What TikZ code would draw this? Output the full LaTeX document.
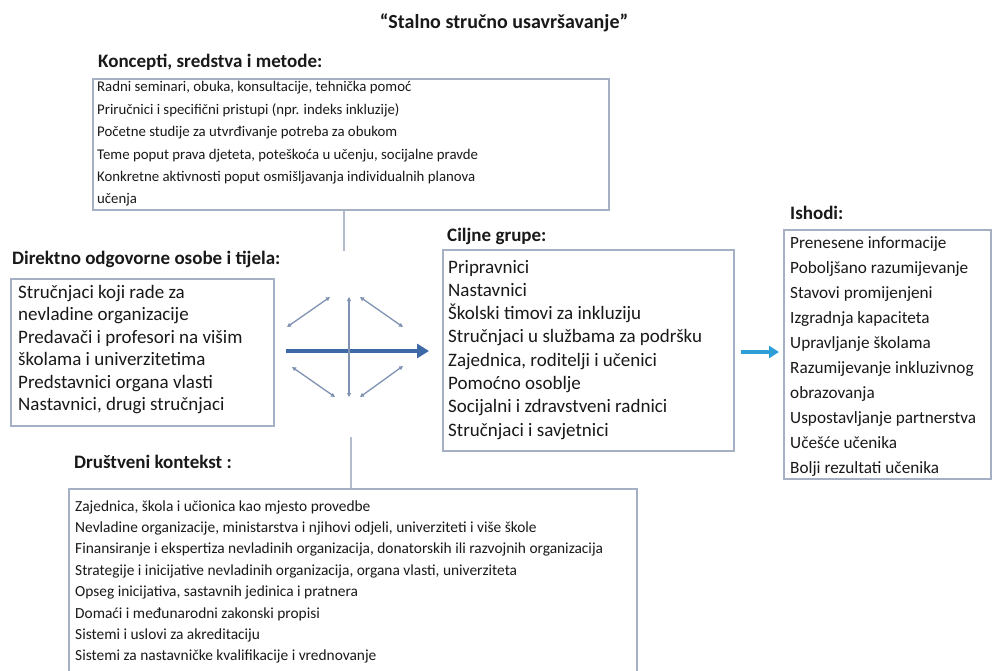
\documentclass[tikz,border=0pt]{standalone}
\usepackage{fontspec}
\setmainfont{Carlito}
\usetikzlibrary{arrows.meta,calc}
\definecolor{boxline}{RGB}{165,176,196}
\definecolor{conn}{RGB}{180,188,204}
\definecolor{mainarrow}{RGB}{61,106,166}
\definecolor{smallarrow}{RGB}{128,146,178}
\definecolor{outarrow}{RGB}{46,159,214}
\definecolor{txt}{RGB}{25,25,25}
\begin{document}
\begin{tikzpicture}[x=1pt,y=-1pt,
  box/.style={draw=boxline,line width=1.6pt,inner sep=0pt,anchor=north west},
  head/.style={anchor=base west,inner sep=0pt,text=txt,font=\fontsize{19}{22}\selectfont\bfseries},
  kl/.style={anchor=base west,inner sep=0pt,text=txt,font=\fontsize{14.8}{17}\selectfont},
  dl/.style={anchor=base west,inner sep=0pt,text=txt,font=\fontsize{19}{22}\selectfont},
  il/.style={anchor=base west,inner sep=0pt,text=txt,font=\fontsize{17.2}{20}\selectfont},
  sl/.style={anchor=base west,inner sep=0pt,text=txt,font=\fontsize{15.4}{18}\selectfont},
  connline/.style={draw=conn,line width=2pt},
  twoway/.style={draw=smallarrow,line width=1.3pt,{Triangle[length=4pt,width=4pt]}-{Triangle[length=4pt,width=4pt]}}]
\fill[white] (0,0) rectangle (992,671);
\useasboundingbox (0,0) rectangle (992,671);

% title
\node[anchor=base,inner sep=0pt,text=txt,font=\fontsize{20}{24}\selectfont\bfseries] (title) at (504,28.5) {“Stalno stručno usavršavanje”};

% Koncepti
\node[head] (khead) at (98,68) {Koncepti, sredstva i metode:};
\node[box,minimum width=516,minimum height=131] (kbox) at (92,78) {};
\foreach \t [count=\i from 0] in {{Radni seminari, obuka, konsultacije, tehnička pomoć},{Priručnici i specifični pristupi (npr. indeks inkluzije)},{Početne studije za utvrđivanje potreba za obukom},{Teme poput prava djeteta, poteškoća u učenju, socijalne pravde},{Konkretne aktivnosti poput osmišljavanja individualnih planova},{učenja}}
  \node[kl] (k\i) at (97,{92+22.4*\i}) {\t};

% Direktno
\node[head] (dhead) at (12,264) {Direktno odgovorne osobe i tijela:};
\node[box,minimum width=263,minimum height=147] (dbox) at (10,278) {};
\foreach \t [count=\i from 0] in {{Stručnjaci koji rade za},{nevladine organizacije},{Predavači i profesori na višim},{školama i univerzitetima},{Predstavnici organa vlasti},{Nastavnici, drugi stručnjaci}}
  \node[dl] (d\i) at (18,{298+22.5*\i}) {\t};

% Ciljne grupe
\node[head] (chead) at (447,241) {Ciljne grupe:};
\node[box,minimum width=291,minimum height=201] (cbox) at (442,249) {};
\foreach \t [count=\i from 0] in {{Pripravnici},{Nastavnici},{Školski timovi za inkluziju},{Stručnjaci u službama za podršku},{Zajednica, roditelji i učenici},{Pomoćno osoblje},{Socijalni i zdravstveni radnici},{Stručnjaci i savjetnici}}
  \node[dl] (c\i) at (448,{273+23.3*\i}) {\t};

% Ishodi
\node[head] (ihead) at (790,219) {Ishodi:};
\node[box,minimum width=207,minimum height=249] (ibox) at (783,229) {};
\foreach \t [count=\i from 0] in {{Prenesene informacije},{Poboljšano razumijevanje},{Stavovi promijenjeni},{Izgradnja kapaciteta},{Upravljanje školama},{Razumijevanje inkluzivnog},{obrazovanja},{Uspostavljanje partnerstva},{Učešće učenika},{Bolji rezultati učenika}}
  \node[il] (i\i) at (790,{248+25.1*\i}) {\t};

% Drustveni kontekst
\node[head] (shead) at (74,468) {Društveni kontekst :};
\node[box,minimum width=568,minimum height=190] (sbox) at (68,488) {};
\foreach \t [count=\i from 0] in {{Zajednica, škola i učionica kao mjesto provedbe},{Nevladine organizacije, ministarstva i njihovi odjeli, univerziteti i više škole},{Finansiranje i ekspertiza nevladinih organizacija, donatorskih ili razvojnih organizacija},{Strategije i inicijative nevladinih organizacija, organa vlasti, univerziteta},{Opseg inicijativa, sastavnih jedinica i pratnera},{Domaći i međunarodni zakonski propisi},{Sistemi i uslovi za akreditaciju},{Sistemi za nastavničke kvalifikacije i vrednovanje}}
  \node[sl] (s\i) at (75,{511+21.4*\i}) {\t};

% vertical connectors
\coordinate (ctop) at (344,251);
\coordinate (cbot) at (351,437);
\draw[connline] (kbox.south -| ctop) -- (ctop);
\draw[connline] (cbot) -- (cbot |- sbox.north);

% central arrows
\draw[draw=mainarrow,line width=4pt,-{Triangle[length=12pt,width=14pt]},shorten <=11pt,shorten >=13pt]
  (dbox.east |- 0,351) -- (cbox.west |- 0,351);
\coordinate (vt) at (349,297);
\coordinate (vb) at (349,397);
\draw[twoway] (vt) -- (vb);
\coordinate (ul1) at (287,327); \coordinate (ul2) at (330,297);
\coordinate (ur1) at (360,297); \coordinate (ur2) at (403,327);
\coordinate (ll1) at (292,367); \coordinate (ll2) at (335,397);
\coordinate (lr1) at (360,397); \coordinate (lr2) at (403,366);
\draw[twoway] (ul1) -- (ul2);
\draw[twoway] (ur1) -- (ur2);
\draw[twoway] (ll1) -- (ll2);
\draw[twoway] (lr1) -- (lr2);

% outcome arrow
\draw[draw=outarrow,line width=4pt,-{Triangle[length=10pt,width=12pt]},shorten <=6pt,shorten >=4pt]
  (cbox.east |- 0,352) -- (ibox.west |- 0,352);
\end{tikzpicture}
\end{document}
